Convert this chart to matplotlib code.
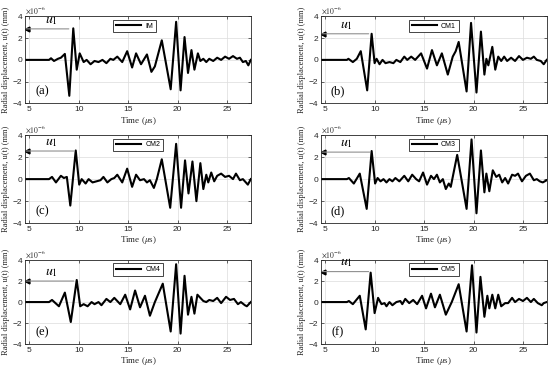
import matplotlib
matplotlib.use("Agg")
import matplotlib.pyplot as plt
import numpy as np

plt.rcParams['mathtext.fontset'] = 'stix'
plt.rcParams['font.family'] = ['Liberation Sans', 'DejaVu Sans']

# waveforms: (time in us, displacement x1e-6 mm)
wave_a = [(4.6, 0), (7.0, 0), (7.2, 0.15), (7.5, -0.1), (7.9, 0.1), (8.2, 0.2), (8.6, 0.55), (9.05, -3.3),
          (9.45, 2.9), (9.8, -0.9), (10.1, 0.6), (10.5, -0.2), (10.8, 0.0), (11.2, -0.4), (11.6, -0.1),
          (12.0, -0.2), (12.4, 0.0), (12.8, -0.3), (13.2, 0.1), (13.5, 0.0), (13.9, 0.3), (14.4, -0.2),
          (14.9, 0.8), (15.4, -0.7), (15.8, 0.6), (16.3, -0.4), (16.9, 0.5), (17.35, -1.1), (17.7, -0.6),
          (18.4, 1.8), (19.3, -2.7), (19.85, 3.5), (20.3, -2.8), (20.7, 2.1), (21.05, -1.2), (21.4, 0.9),
          (21.7, -0.9), (22.05, 0.6), (22.3, -0.1), (22.6, 0.1), (22.9, -0.2), (23.2, 0.1), (23.6, -0.1),
          (24.0, 0.2), (24.4, 0.0), (24.8, 0.3), (25.2, 0.1), (25.6, 0.35), (26.0, 0.1), (26.3, 0.2),
          (26.6, -0.2), (26.9, -0.1), (27.15, -0.5), (27.4, 0.0)]
wave_b = [(4.6, 0), (7.2, 0), (7.35, 0.1), (7.8, -0.2), (8.2, 0.1), (8.6, 0.8), (9.25, -2.8), (9.7, 2.4),
          (10.0, -0.3), (10.2, 0.1), (10.5, -0.4), (10.8, 0.0), (11.1, -0.3), (11.5, -0.2), (11.9, -0.3),
          (12.2, 0.0), (12.6, -0.2), (13.0, 0.3), (13.3, 0.0), (13.7, 0.3), (14.1, 0.0), (14.7, 0.6),
          (15.3, -0.8), (15.8, 0.9), (16.3, -0.5), (16.8, 0.6), (17.4, -1.35), (17.9, 0.3), (18.2, 0.8),
          (18.5, 1.65), (19.3, -2.9), (19.75, 3.4), (20.3, -3.0), (20.75, 2.6), (21.1, -1.35), (21.3, 0.1),
          (21.5, -0.5), (21.9, 1.2), (22.2, -0.9), (22.5, 0.3), (22.8, -0.1), (23.1, 0.3), (23.4, -0.1),
          (23.8, 0.2), (24.2, -0.1), (24.6, 0.35), (25.0, 0.0), (25.4, 0.2), (25.8, 0.1), (26.1, 0.3),
          (26.4, 0.0), (26.8, -0.1), (27.1, -0.4), (27.4, 0.0)]
wave_c = [(4.6, 0), (7.0, 0), (7.3, 0.2), (7.7, -0.3), (8.2, 0.3), (8.5, 0.1), (8.8, 0.2), (9.15, -2.4),
          (9.7, 2.6), (10.05, -0.5), (10.3, 0.0), (10.7, -0.4), (11.0, 0.0), (11.4, -0.3), (11.8, -0.2),
          (12.2, -0.1), (12.5, 0.2), (12.9, -0.3), (13.3, 0.0), (13.6, 0.1), (13.9, 0.4), (14.4, -0.3),
          (14.9, 0.95), (15.4, -0.7), (15.8, 0.4), (16.2, -0.1), (16.6, 0.0), (16.9, -0.3), (17.2, -0.1),
          (17.6, -0.8), (17.9, 0.0), (18.4, 1.8), (19.25, -2.6), (19.85, 3.2), (20.35, -2.6), (20.75, 1.7),
          (21.1, -1.3), (21.5, 1.6), (21.9, -2.0), (22.3, 1.45), (22.6, -0.9), (22.9, 0.4), (23.1, -0.3),
          (23.4, 0.6), (23.7, -0.2), (24.0, 0.3), (24.4, 0.5), (24.8, 0.2), (25.2, 0.3), (25.6, 0.0),
          (25.9, 0.5), (26.3, -0.1), (26.6, 0.0), (27.1, -0.5), (27.4, 0.0)]
wave_d = [(4.6, 0), (7.2, 0), (7.4, 0.1), (7.9, -0.4), (8.5, 0.5), (9.2, -2.7), (9.7, 2.55), (10.05, -0.4),
          (10.3, 0.1), (10.6, -0.2), (10.9, 0.0), (11.2, -0.3), (11.5, 0.0), (11.8, -0.2), (12.1, 0.1),
          (12.5, -0.2), (13.0, 0.3), (13.4, -0.2), (13.8, 0.4), (14.2, 0.0), (14.5, -0.2), (14.9, 0.6),
          (15.3, -0.5), (15.7, 0.3), (16.0, 0.0), (16.3, 0.4), (16.6, -0.3), (16.9, 0.0), (17.2, -0.9),
          (17.5, -0.4), (17.7, -0.7), (18.35, 2.2), (19.3, -2.7), (19.8, 3.6), (20.3, -3.1), (20.75, 2.6),
          (21.1, -1.2), (21.3, 0.5), (21.6, -1.1), (21.95, 0.8), (22.3, 0.2), (22.6, 0.4), (22.9, -0.3),
          (23.2, 0.1), (23.5, -0.4), (23.9, 0.4), (24.2, 0.3), (24.5, 0.5), (24.9, -0.2), (25.3, 0.3),
          (25.7, 0.5), (26.1, -0.1), (26.4, 0.0), (26.7, -0.2), (27.0, -0.3), (27.4, -0.1)]
wave_e = [(4.6, 0), (7.0, 0), (7.3, 0.2), (8.0, -0.4), (8.6, 0.9), (9.2, -1.9), (9.8, 2.1), (10.15, -0.4),
          (10.5, -0.2), (10.9, -0.4), (11.3, 0.0), (11.6, -0.2), (12.0, 0.0), (12.3, -0.3), (12.8, 0.3),
          (13.2, 0.0), (13.6, 0.4), (14.2, -0.2), (14.7, 0.7), (15.2, -0.7), (15.7, 1.1), (16.2, -0.5),
          (16.7, 0.6), (17.2, -1.3), (17.7, 0.0), (18.5, 1.75), (19.3, -2.8), (19.85, 3.6), (20.3, -3.0),
          (20.7, 2.5), (21.05, -1.2), (21.4, 0.5), (21.7, -1.1), (22.0, 0.7), (22.3, 0.4), (22.6, 0.1),
          (22.9, 0.0), (23.2, 0.2), (23.6, 0.1), (24.0, 0.4), (24.4, -0.1), (24.9, 0.5), (25.3, 0.2),
          (25.7, 0.3), (26.1, -0.2), (26.4, 0.0), (26.8, -0.3), (27.0, -0.4), (27.4, 0.0)]
wave_f = [(4.6, 0), (7.2, 0), (7.4, 0.1), (7.8, -0.2), (8.5, 0.6), (9.1, -2.6), (9.6, 2.8), (10.0, -1.05),
          (10.35, 0.4), (10.7, -0.2), (11.0, -0.1), (11.2, -0.4), (11.5, 0.0), (11.8, -0.3), (12.2, 0.0),
          (12.6, 0.1), (12.8, -0.2), (13.1, 0.3), (13.5, -0.1), (13.9, 0.2), (14.3, -0.2), (14.8, 0.6),
          (15.2, -0.6), (15.7, 0.8), (16.1, -0.5), (16.6, 0.7), (17.2, -1.2), (17.8, 0.0), (18.5, 1.7),
          (19.3, -2.8), (19.85, 3.5), (20.3, -2.9), (20.7, 2.4), (21.1, -1.4), (21.4, 0.6), (21.6, -0.6),
          (21.9, 0.7), (22.2, -0.6), (22.5, 0.7), (22.8, -0.4), (23.2, -0.1), (23.5, -0.1), (23.9, 0.4),
          (24.2, 0.0), (24.6, 0.3), (25.0, 0.1), (25.4, 0.4), (25.8, 0.0), (26.1, 0.3), (26.5, -0.1),
          (26.9, -0.3), (27.1, -0.1), (27.4, 0.0)]

names = ['IM', 'CM1', 'CM2', 'CM3', 'CM4', 'CM5']
tags = ['(a)', '(b)', '(c)', '(d)', '(e)', '(f)']
waves = [wave_a, wave_b, wave_c, wave_d, wave_e, wave_f]
# u1 arrow: level and start time
u1_level = [2.85, 2.4, 2.55, 2.45, 2.0, 2.9]
u1_start = [9.0, 9.4, 9.5, 9.5, 9.5, 9.4]

fig = plt.figure(figsize=(5.5, 3.72), dpi=100)
lefts = [0.046, 0.584]
bottoms = [0.722, 0.400, 0.075]
heights = [0.234, 0.237, 0.226]
grey = '#262626'

for i in range(6):
    r, c = divmod(i, 2)
    ax = fig.add_axes([lefts[c], bottoms[r], 0.41, heights[r]])
    t = [p[0] for p in waves[i]]
    u = [p[1] for p in waves[i]]
    ax.plot(t, u, color='black', lw=1.5, label=names[i], solid_joinstyle='round')
    ax.set_xlim(4.6, 27.4)
    ax.set_ylim(-4, 4)
    ax.set_xticks([5, 10, 15, 20, 25])
    ax.set_yticks([-4, -2, 0, 2, 4])
    ax.grid(True, color='#dcdcdc', lw=0.5)
    ax.set_axisbelow(True)
    ax.tick_params(direction='in', length=2, width=0.5, labelsize=6, colors=grey, pad=2,
                   top=True, right=True)
    for s in ax.spines.values():
        s.set_linewidth(0.6)
        s.set_color(grey)
    ax.set_ylabel('Radial displacement, u(t) (mm)', family='Liberation Serif', fontsize=6,
                  color=grey, labelpad=2)
    ax.set_xlabel('Time ($\\mu$s)', family='Liberation Serif', fontsize=6.5, color=grey, labelpad=1)
    ax.text(0.0, 1.005, '$\\times10^{-6}$', transform=ax.transAxes, fontsize=5.5, color=grey,
            va='bottom', ha='left', family='Liberation Sans')
    ax.annotate('', xy=(4.7, u1_level[i]), xytext=(u1_start[i], u1_level[i]),
                arrowprops=dict(arrowstyle='-', color='#909090', lw=0.8, shrinkA=0, shrinkB=0))
    ax.plot([4.75], [u1_level[i]], marker='<', color='black', ms=3.5)
    ax.text(7.2, u1_level[i] + 0.2, '$u_1$', fontsize=10, ha='center', va='bottom')
    ax.text(6.3, -2.9, tags[i], family='Liberation Serif', fontsize=9, ha='center', va='center')
    leg = ax.legend(loc='upper left', bbox_to_anchor=(0.39, 0.96), fontsize=5, handlelength=3.6,
                    handletextpad=0.6, borderpad=0.4, fancybox=False, framealpha=1,
                    edgecolor=grey, borderaxespad=0)
    leg.get_frame().set_linewidth(0.6)

fig.savefig('out.png', dpi=100)
